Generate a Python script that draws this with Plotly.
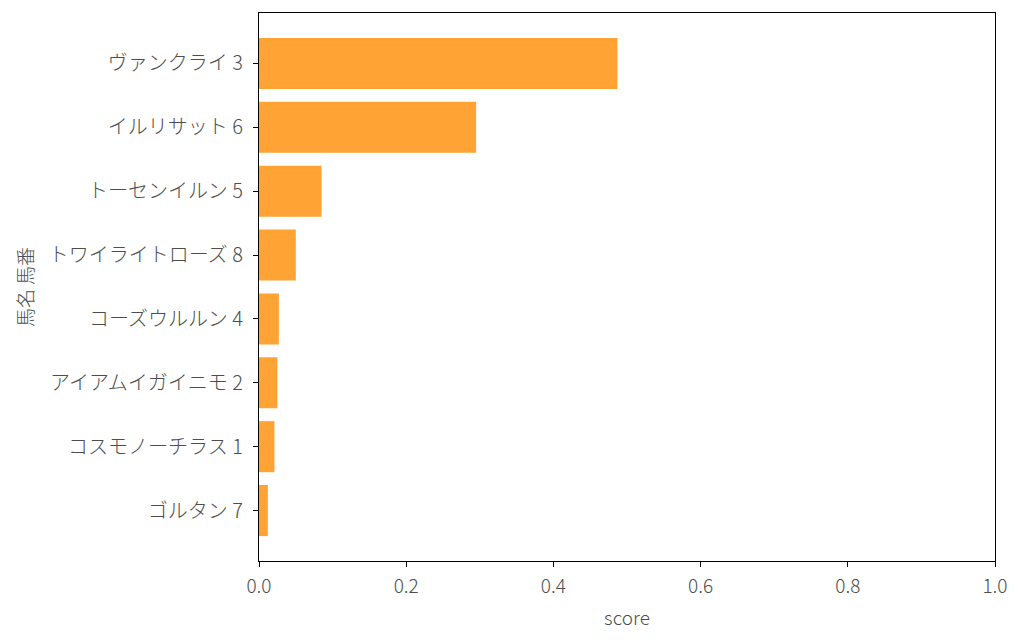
import plotly.graph_objects as go

horses = ["ヴァンクライ 3", "イルリサット 6", "トーセンイルン 5", "トワイライトローズ 8",
          "コーズウルルン 4", "アイアムイガイニモ 2", "コスモノーチラス 1", "ゴルタン 7"]
scores = [0.487, 0.295, 0.085, 0.050, 0.027, 0.025, 0.021, 0.012]

# bottom-to-top order for plotly
names = horses[::-1]
vals = scores[::-1]

font_family = "Noto Sans CJK JP Light, Noto Sans CJK JP"

fig = go.Figure(go.Bar(
    x=vals, y=names, orientation="h",
    marker=dict(color="#FFA335", line=dict(width=0)),
    width=0.8,
))

# page body has an 8px margin, so shift margins accordingly
fig.update_layout(
    width=1024, height=644,
    margin=dict(l=251, r=37, t=5, b=91),
    plot_bgcolor="white", paper_bgcolor="white",
    font=dict(family=font_family, size=19, color="#4d4d4d", weight=300),
    showlegend=False,
)
fig.update_xaxes(
    range=[0, 1.0], tickvals=[0, 0.2, 0.4, 0.6, 0.8, 1.0],
    ticktext=["0.0", "0.2", "0.4", "0.6", "0.8", "1.0"],
    showgrid=False, zeroline=False,
    showline=True, linecolor="black", linewidth=1.3, mirror=True,
    ticks="outside", ticklen=5, tickcolor="black", tickwidth=1.3,
    ticklabelstandoff=3, tickfont=dict(size=19),
    title=dict(text="score", standoff=14, font=dict(size=19)),
)
fig.update_yaxes(
    range=[-0.79, 7.79], type="category",
    showgrid=False, zeroline=False,
    showline=True, linecolor="black", linewidth=1.3, mirror=True,
    ticks="outside", ticklen=5, tickcolor="black", tickwidth=1.3,
    ticklabelstandoff=6, tickfont=dict(size=20),
    title=dict(text="馬名 馬番", standoff=10, font=dict(size=19)),
)

fig.write_html("out.html")
